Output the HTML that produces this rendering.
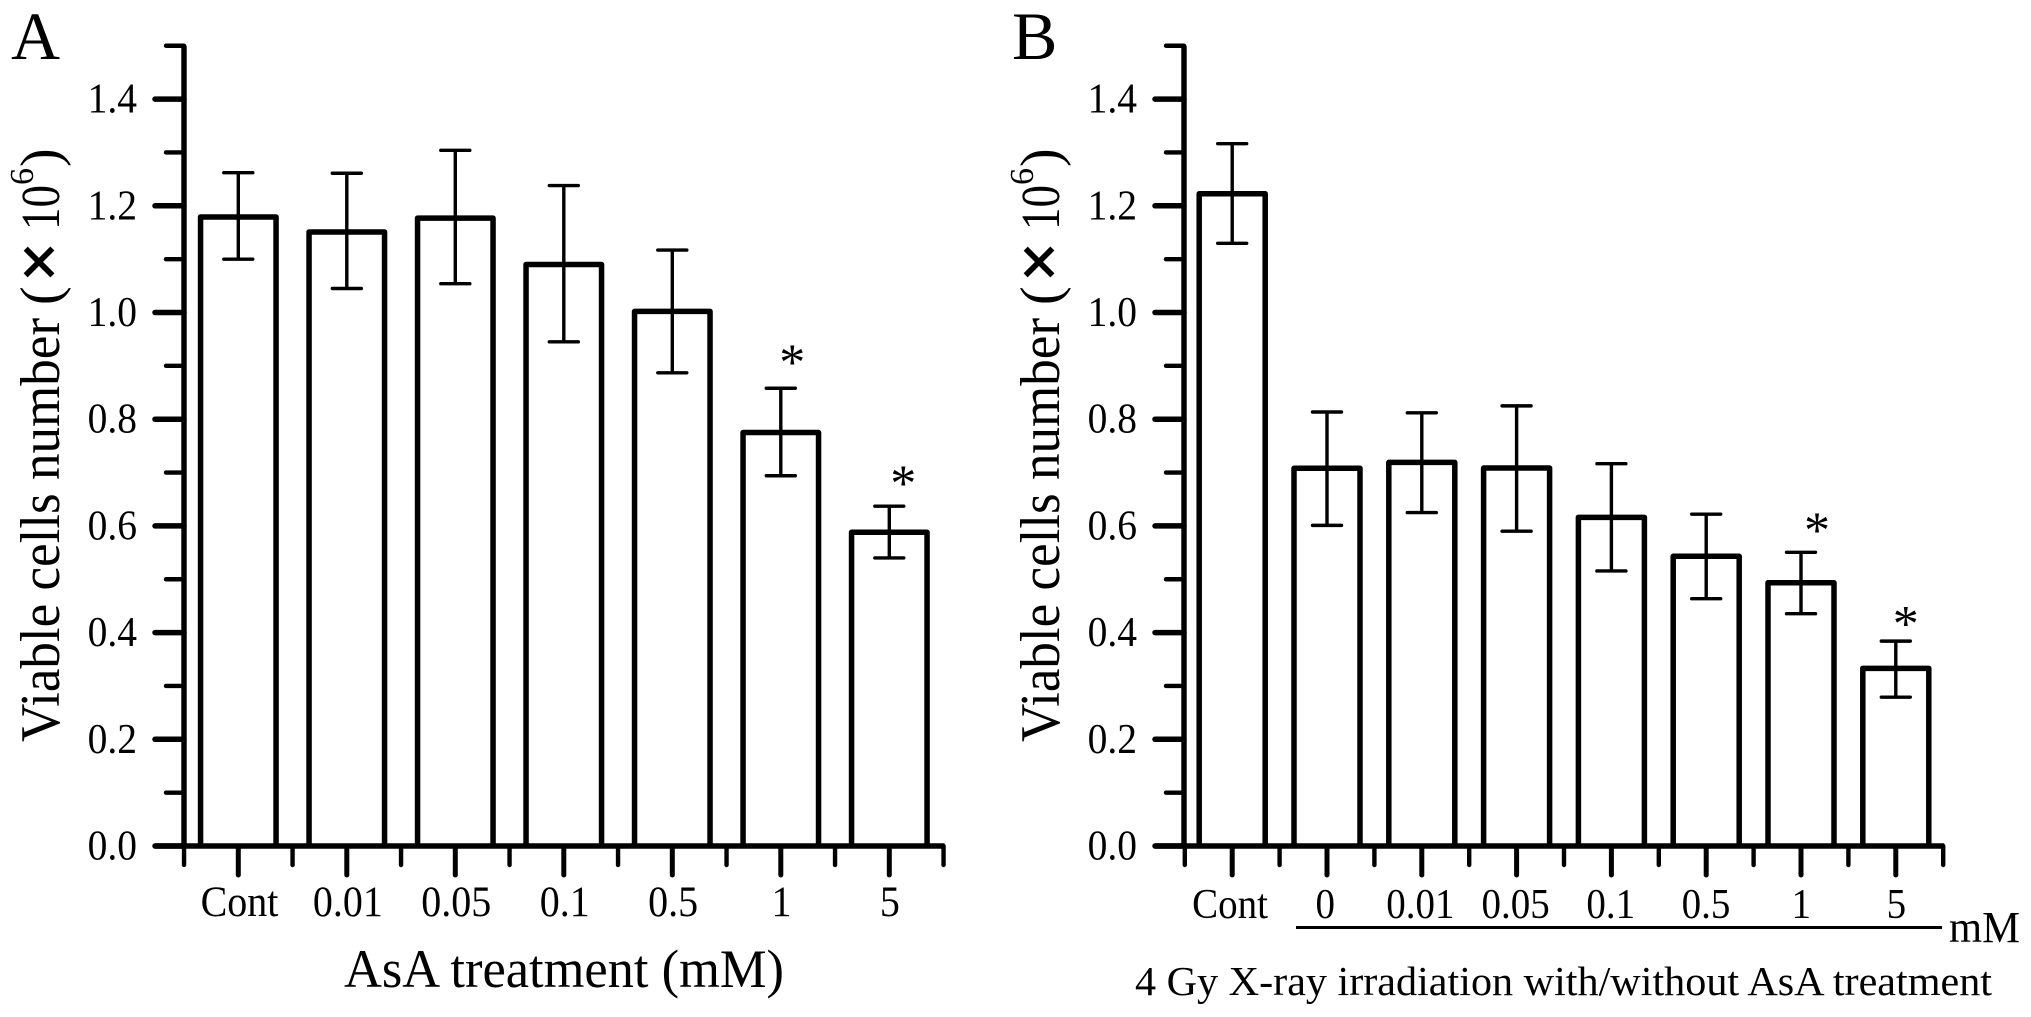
<!DOCTYPE html>
<html lang="en">
<head>
<meta charset="utf-8">
<title>Viable cells number with AsA treatment</title>
<style>
html,body{margin:0;padding:0;background:#fff;width:2031px;height:1017px;overflow:hidden}
svg{display:block}
text{font-family:"Liberation Serif",serif;fill:#000}
</style>
</head>
<body>
<svg id="figure" xmlns="http://www.w3.org/2000/svg" width="2031" height="1017" viewBox="0 0 2031 1017">
  <rect width="2031" height="1017" fill="#fff"/>
  <text x="11" y="59" font-size="68">A</text>
  <text x="1012" y="59" font-size="68">B</text>
  <text x="344" y="987" font-size="54" textLength="440" lengthAdjust="spacingAndGlyphs">AsA treatment (mM)</text>
  <text x="1135" y="995" font-size="41" textLength="857" lengthAdjust="spacingAndGlyphs">4 Gy X-ray irradiation with/without AsA treatment</text>
  <line x1="1296" x2="1942" y1="927.5" y2="927.5" stroke="#000" stroke-width="3"/>
  <text x="1949" y="942" font-size="44" textLength="71" lengthAdjust="spacingAndGlyphs">mM</text>
  <g transform="translate(59,742) rotate(-90)">
    <text x="0" y="0" font-size="56" textLength="424" lengthAdjust="spacingAndGlyphs">Viable cells number</text>
    <text x="437" y="0" font-size="56">(</text>
    <text x="480" y="2" font-size="66" text-anchor="middle" stroke="#000" stroke-width="1" style="font-family:'Liberation Sans',sans-serif">×</text>
    <text x="512" y="0" font-size="55" textLength="45" lengthAdjust="spacingAndGlyphs">10</text>
    <text x="557" y="-26" font-size="34">6</text>
    <text x="575" y="0" font-size="56">)</text>
  </g>
  <g transform="translate(1059,742) rotate(-90)">
    <text x="0" y="0" font-size="56" textLength="424" lengthAdjust="spacingAndGlyphs">Viable cells number</text>
    <text x="437" y="0" font-size="56">(</text>
    <text x="480" y="2" font-size="66" text-anchor="middle" stroke="#000" stroke-width="1" style="font-family:'Liberation Sans',sans-serif">×</text>
    <text x="512" y="0" font-size="55" textLength="45" lengthAdjust="spacingAndGlyphs">10</text>
    <text x="557" y="-26" font-size="34">6</text>
    <text x="575" y="0" font-size="56">)</text>
  </g>
</svg>
<script>
const yTickLabels = ['0.0', '0.2', '0.4', '0.6', '0.8', '1.0', '1.2', '1.4'];
const yTickValues = [0, 0.2, 0.4, 0.6, 0.8, 1.0, 1.2, 1.4];
const yMinorValues = [0.1, 0.3, 0.5, 0.7, 0.9, 1.1, 1.3, 1.5];

const categoriesA = ['Cont', '0.01', '0.05', '0.1', '0.5', '1', '5'];
const meansA = [1.179, 1.151, 1.177, 1.09, 1.002, 0.775, 0.588];
const upperA = [1.262, 1.261, 1.304, 1.238, 1.117, 0.858, 0.637];
const lowerA = [1.10, 1.045, 1.054, 0.945, 0.887, 0.694, 0.540];

const categoriesB = ['Cont', '0', '0.01', '0.05', '0.1', '0.5', '1', '5'];
const meansB = [1.2227, 0.708, 0.719, 0.7085, 0.616, 0.543, 0.4935, 0.333];
const upperB = [1.3165, 0.8135, 0.812, 0.825, 0.7166, 0.622, 0.5505, 0.384];
const lowerB = [1.1297, 0.601, 0.625, 0.590, 0.5155, 0.4635, 0.4354, 0.279];

const svg = document.getElementById('figure');
const NS = 'http://www.w3.org/2000/svg';

function yScale(v) { return 846 - 533.5 * v; }

function make(tag, attrs, parent) {
  const node = document.createElementNS(NS, tag);
  for (const k in attrs) node.setAttribute(k, attrs[k]);
  parent.appendChild(node);
  return node;
}

function drawPanel(id, axisX, firstCenter, band, barWidth, categories, means, upper, lower, labelCenters, labelBaseline, labelSize) {
  const xScale = function (i) { return firstCenter + band * i; };
  const panel = make('g', {}, svg);
  
  

  categories.forEach(function (cat, i) {
    const cx = xScale(i);
    const top = yScale(means[i]);
    const bar = make('path', {
      d: 'M' + (cx - barWidth / 2) + ' 846V' + top + 'H' + (cx + barWidth / 2) + 'V846',
      fill: '#fff', stroke: '#000', 'stroke-width': 5.5, 'stroke-linejoin': 'round'
    }, panel);
    
    

    const err = make('path', {
      d: 'M' + cx + ' ' + yScale(upper[i]) + 'V' + yScale(lower[i]) +
         'M' + (cx - 14.5) + ' ' + yScale(upper[i]) + 'H' + (cx + 14.5) +
         'M' + (cx - 14.5) + ' ' + yScale(lower[i]) + 'H' + (cx + 14.5),
      fill: 'none', stroke: '#000', 'stroke-width': 3.4, 'stroke-linecap': 'round'
    }, panel);
    
    

    const tick = make('line', {
      x1: cx, x2: cx, y1: 846, y2: 875, stroke: '#000', 'stroke-width': 5, 'stroke-linecap': 'round'
    }, panel);
    
    

    const label = make('text', {
      transform: 'translate(' + labelCenters(i) + ',' + labelBaseline + ') scale(1,1.08)',
      'font-size': labelSize, 'text-anchor': 'middle'
    }, panel);
    label.textContent = cat;
    
    
  });

  for (let i = 0; i <= categories.length; i++) {
    const mx = firstCenter - band / 2 + band * i;
    const minor = make('line', {
      x1: mx, x2: mx, y1: 846, y2: 865, stroke: '#000', 'stroke-width': 4.4, 'stroke-linecap': 'round'
    }, panel);
    
    
  }

  const yAxis = make('line', {
    x1: axisX, x2: axisX, y1: yScale(1.5), y2: 848, stroke: '#000', 'stroke-width': 5.4
  }, panel);
  
  

  const xAxis = make('line', {
    x1: axisX - 29, x2: firstCenter - band / 2 + band * categories.length + 1, y1: 846, y2: 846,
    stroke: '#000', 'stroke-width': 5.5
  }, panel);
  
  

  yTickValues.forEach(function (v, i) {
    const tick = make('line', {
      x1: axisX - 29, x2: axisX, y1: yScale(v), y2: yScale(v), stroke: '#000', 'stroke-width': 5.5, 'stroke-linecap': 'round'
    }, panel);
    
    

    const label = make('text', {
      transform: 'translate(' + (axisX - 47) + ',' + (yScale(v) + 13.5) + ') scale(1,1.06)',
      'font-size': 39.5, 'text-anchor': 'end'
    }, panel);
    label.textContent = yTickLabels[i];
    
    
  });

  yMinorValues.forEach(function (v) {
    const tick = make('line', {
      x1: axisX - 18, x2: axisX, y1: yScale(v), y2: yScale(v), stroke: '#000', 'stroke-width': 4.4, 'stroke-linecap': 'round'
    }, panel);
    
    
  });

  return function drawStar(i, dx, dy) {
    const star = make('text', {
      x: xScale(i) + dx, y: yScale(upper[i]) - dy + 24, 'font-size': 52, 'text-anchor': 'middle'
    }, panel);
    star.textContent = '*';
    
    
  };
}

const starA = drawPanel('panel-a', 184, 238.3, 108.5, 75.5, categoriesA, meansA, upperA, lowerA,
  function (i) { return 239.5 + 108.4 * i; }, 916, 40);
starA(5, 11.5, 33);
starA(6, 14, 29.6);

const starB = drawPanel('panel-b', 1184, 1232.2, 94.8, 66, categoriesB, meansB, upperB, lowerB,
  function (i) { return 1230 + 95.2 * i; }, 918, 39);
starB(6, 16, 29);
starB(7, 10, 24);
</script>
</body>
</html>
